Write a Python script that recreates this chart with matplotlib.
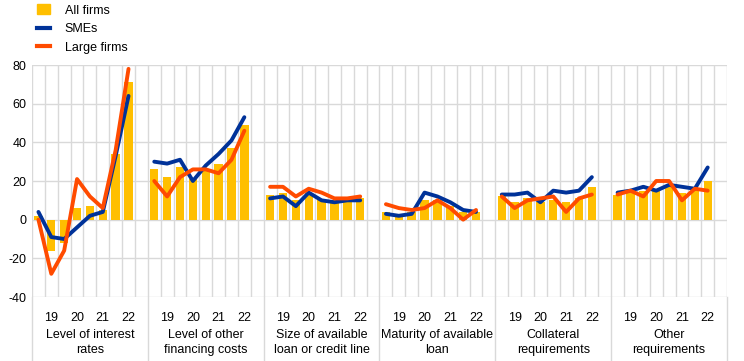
import matplotlib.pyplot as plt
from matplotlib.lines import Line2D
from matplotlib.patches import Patch

plt.rcParams['font.family'] = ['Liberation Sans', 'DejaVu Sans']

categories = ['Level of interest\nrates', 'Level of other\nfinancing costs',
              'Size of available\nloan or credit line', 'Maturity of available\nloan',
              'Collateral\nrequirements', 'Other\nrequirements']
year_labels = ['19', '20', '21', '22']

all_firms = [
    [2, -16, -12, 6, 7, 5, 34, 71],
    [26, 22, 27, 21, 26, 29, 37, 49],
    [13, 14, 10, 14, 10, 10, 10, 11],
    [4, 3, 4, 10, 10, 7, 4, 4],
    [12, 9, 11, 9, 10, 9, 11, 17],
    [13, 14, 15, 15, 17, 14, 16, 20],
]
smes = [
    [4, -9, -10, -4, 2, 4, 33, 64],
    [30, 29, 31, 20, 28, 34, 41, 53],
    [11, 12, 7, 14, 10, 9, 10, 10],
    [3, 2, 3, 14, 12, 9, 5, 4],
    [13, 13, 14, 9, 15, 14, 15, 22],
    [14, 15, 17, 15, 18, 17, 16, 27],
]
large = [
    [0, -28, -16, 21, 12, 6, 36, 78],
    [20, 12, 22, 26, 26, 24, 31, 46],
    [17, 17, 12, 16, 14, 11, 11, 12],
    [8, 6, 5, 6, 10, 6, 0, 5],
    [12, 6, 10, 11, 12, 4, 11, 13],
    [13, 15, 12, 20, 20, 10, 16, 15],
]

yellow = '#FFBF00'
blue = '#003299'
orange = '#FF4B00'
grid = '#D9D9D9'

fig = plt.figure(figsize=(7.44, 3.61), dpi=100)
ax = fig.add_axes([32 / 744, 1 - 297 / 361, 695 / 744, 232 / 361])

nslot = 9
for g in range(len(categories)):
    xs = [g * nslot + k + 0.5 for k in range(8)]
    ax.bar(xs, all_firms[g], width=0.65, color=yellow, zorder=2)
    ax.plot(xs, smes[g], color=blue, lw=2.8, zorder=3, solid_capstyle='round',
            clip_on=False)
    ax.plot(xs, large[g], color=orange, lw=2.8, zorder=4, solid_capstyle='round',
            clip_on=False)

ax.set_xlim(0, nslot * len(categories))
ax.set_ylim(-40, 80)
ax.set_yticks(range(-40, 81, 20))
ax.set_yticklabels([str(v) for v in range(-40, 81, 20)], fontsize=9)
ax.tick_params(length=0, pad=4)

for v in range(-40, 81, 20):
    ax.axhline(v, color=grid, lw=1, zorder=1)
for i in range(nslot * len(categories) + 1):
    ax.axvline(i, color=grid, lw=1, zorder=1)

# group separators reaching into the label area
trans = ax.get_xaxis_transform()
for g in range(len(categories) + 1):
    ax.add_line(Line2D([g * nslot, g * nslot], [0, -0.28], transform=trans,
                       color=grid, lw=1, clip_on=False))

xt = []
xl = []
for g in range(len(categories)):
    for j, lab in enumerate(year_labels):
        xt.append(g * nslot + 2 * j + 1.5)
        xl.append(lab)
    ax.text(g * nslot + 4.5, -0.14, categories[g], transform=trans,
            ha='center', va='top', fontsize=9, linespacing=1.25)
ax.set_xticks(xt)
ax.set_xticklabels(xl, fontsize=9)
ax.tick_params(axis='x', pad=11)

for s in ax.spines.values():
    s.set_visible(False)

handles = [Patch(color=yellow), Line2D([], [], color=blue, lw=3),
           Line2D([], [], color=orange, lw=3)]
fig.legend(handles, ['All firms', 'SMEs', 'Large firms'], loc='upper left',
           bbox_to_anchor=(0.035, 1.02), frameon=False, fontsize=9,
           handlelength=1.0, handleheight=0.9, labelspacing=0.5, handletextpad=1.2)

fig.savefig('out.png', dpi=100)
